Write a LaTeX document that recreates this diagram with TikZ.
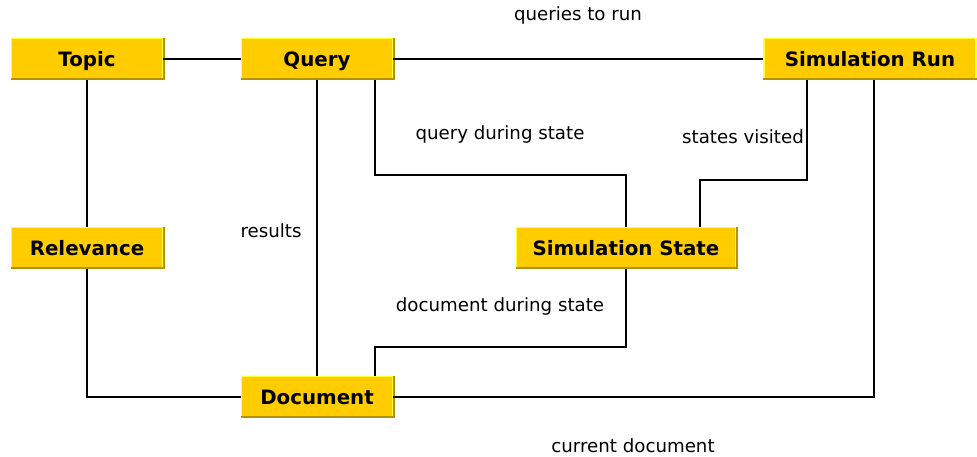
\documentclass[tikz,border=0pt]{standalone}
\usepackage{fontspec}
\setmainfont{DejaVu Sans}
\usetikzlibrary{positioning}
\definecolor{boxfill}{HTML}{FFCC00}
\definecolor{boxlight}{HTML}{FFFF33}
\definecolor{boxdark}{HTML}{B39200}

\begin{document}
\begin{tikzpicture}[
  x=1pt,y=-1pt,
  entity/.style={rectangle,fill=boxfill,draw=boxlight,line width=1.2pt,
    minimum height=41pt,inner sep=0pt,text height=15.5pt,text depth=1.5pt,
    font=\fontsize{19.8}{22}\selectfont\bfseries},
  link/.style={draw,line width=1.1pt},
  tag/.style={font=\fontsize{18.2}{21}\selectfont,inner sep=0pt}
]
  \useasboundingbox (0,0) rectangle (977,456);
  \node[entity,minimum width=151pt] (topic) at (87,59) {Topic};
  \node[entity,minimum width=151pt] (query) at (317,59) {Query};
  \node[entity,minimum width=212pt] (run) at (870,59) {Simulation Run};
  \node[entity,minimum width=151pt] (rel) at (87,248) {Relevance};
  \node[entity,minimum width=219pt] (state) at (626,248) {Simulation State};
  \node[entity,minimum width=151pt] (doc) at (317,397) {Document};
  % shaded lower and right edges
  \foreach \n in {topic,query,run,rel,state,doc}
    \draw[boxdark,line width=2pt] ([xshift=1pt]\n.north east) -- ([xshift=1pt,yshift=1pt]\n.south east) -- ([yshift=1pt]\n.south west);

  \coordinate (qs) at ([xshift=58pt]query.south);
  \coordinate (rs) at ([xshift=-63pt]run.south);
  \coordinate (rd) at ([xshift=4pt]run.south);
  \coordinate (dq) at ([xshift=58pt]doc.north);
  \coordinate (sr) at ([xshift=74pt]state.north);

  \draw[link] (topic) -- (query);
  \draw[link] (query) -- (run);
  \draw[link] (topic) -- (rel);
  \draw[link] (query) -- (doc);
  \draw[link] (qs) |- (600,175) -| (state.north);
  \draw[link] (rs) |- (750,180) -| (sr);
  \draw[link] (rd) |- (doc.east);
  \draw[link] (rel.south) |- (doc.west);
  \draw[link] (state.south) |- (500,347) -| (dq);

  \node[tag] (l1) at (578,15) {queries to run};
  \node[tag] (l2) at (500,134) {query during state};
  \node[tag] (l3) at (743,137) {states visited};
  \node[tag] (l4) at (271,231) {results};
  \node[tag] (l5) at (500,306) {document during state};
  \node[tag] (l6) at (633,446) {current document};
\end{tikzpicture}
\end{document}
